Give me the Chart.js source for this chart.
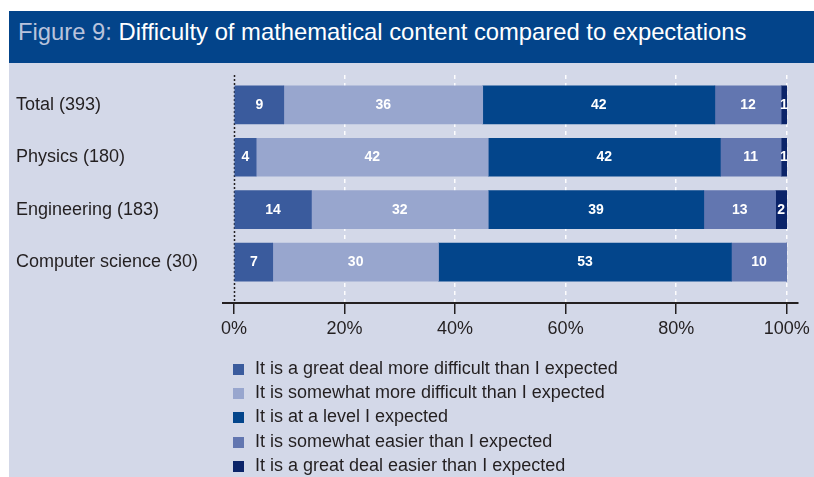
<!DOCTYPE html>
<html>
<head>
<meta charset="utf-8">
<script src="https://cdn.jsdelivr.net/npm/chart.js@4/dist/chart.umd.min.js"></script>
<style>
  body { margin: 0; background: #fff; width: 814px; height: 477px; position: relative; overflow: hidden; }
  #panel { position: absolute; left: 9px; top: 63px; right: 0; bottom: 0; background: #d3d8e8; }
  #titlebar { position: absolute; left: 9px; top: 11px; right: 0; height: 52px; background: #03448a;
    font-family: 'Liberation Sans', Arial, sans-serif; font-size: 23.8px;
    color: #fff; line-height: 41px; padding-left: 9px; white-space: nowrap; }
  #titlebar .fig { color: #b9c3dc; }
  #chartbox { position: absolute; left: 0; top: 0; width: 814px; height: 477px; }
  #legend { position: absolute; left: 233px; top: 356px; font-family: 'Liberation Sans', Arial, sans-serif;
    font-size: 18px; color: #231f20; }
  #legend div { height: 24.2px; line-height: 24px; white-space: nowrap; }
  #legend span.box { display: inline-block; width: 11px; height: 11px; margin-right: 11px; vertical-align: -1px; }
</style>
</head>
<body>
<div id="titlebar"><span class="fig">Figure 9:</span> Difficulty of mathematical content compared to expectations</div>
<div id="panel"></div>
<div id="chartbox"><canvas id="myChart" width="814" height="477"></canvas></div>
<div id="legend"></div>
<script>
// categories (top to bottom)
const groups = ['Total (393)', 'Physics (180)', 'Engineering (183)', 'Computer science (30)'];

// answers, one per stacked segment
const answers = [
  'It is a great deal more difficult than I expected',
  'It is somewhat more difficult than I expected',
  'It is at a level I expected',
  'It is somewhat easier than I expected',
  'It is a great deal easier than I expected'
];
const colours = ['#3a5b9d', '#98a6ce', '#03458b', '#6276b0', '#0b2469'];

// percentages per group
const muchHarder   = [9, 4, 14, 7];
const bitHarder    = [36, 42, 32, 30];
const asExpected   = [42, 42, 39, 53];
const bitEasier    = [12, 11, 13, 10];
const muchEasier   = [1, 1, 2, 0];

const xTicks = [0, 20, 40, 60, 80, 100];

const series = [muchHarder, bitHarder, asExpected, bitEasier, muchEasier];
const datasets = series.map((vals, s) => ({
  label: answers[s],
  data: vals.map((v, i) => ({ x: v, y: i })),
  backgroundColor: colours[s],
  borderWidth: 0,
  barThickness: 38,
  stack: 'all'
}));

// white numbers in the middle of each segment
const segmentLabels = {
  id: 'segmentLabels',
  afterDatasetsDraw(chart) {
    const ctx = chart.ctx;
    ctx.save();
    ctx.fillStyle = '#fff';
    ctx.font = 'bold 14px "Liberation Sans", Arial, sans-serif';
    ctx.textAlign = 'center';
    ctx.textBaseline = 'middle';
    chart.data.datasets.forEach((ds, d) => {
      chart.getDatasetMeta(d).data.forEach((bar, i) => {
        const v = ds.data[i].x;
        if (!v) return;
        const p = bar.getProps(['x', 'y', 'base'], true);
        ctx.fillText(String(v), (p.x + p.base) / 2, p.y);
      });
    });
    ctx.restore();
  }
};

// dotted line at 0%
const zeroLine = {
  id: 'zeroLine',
  beforeDatasetsDraw(chart) {
    const x = Math.round(chart.scales.x.getPixelForValue(0)) + 0.5;
    const a = chart.chartArea;
    const ctx = chart.ctx;
    ctx.save();
    ctx.strokeStyle = '#231f20';
    ctx.lineWidth = 1.5;
    ctx.setLineDash([2, 2]);
    ctx.beginPath();
    ctx.moveTo(x, a.top);
    ctx.lineTo(x, a.bottom);
    ctx.stroke();
    ctx.restore();
  }
};

const textFont = { family: "'Liberation Sans', Arial, sans-serif", size: 18 };

const myChart = new Chart(document.getElementById('myChart'), {
  type: 'bar',
  data: { datasets: datasets },
  plugins: [zeroLine, segmentLabels],
  options: {
    responsive: false,
    animation: false,
    indexAxis: 'y',
    layout: { padding: { left: 16, right: 16, top: 75, bottom: 135 } },
    plugins: {
      legend: { display: false },
      tooltip: { enabled: false }
    },
    scales: {
      x: {
        type: 'linear',
        stacked: true,
        min: -2,
        max: 102,
        afterBuildTicks: (scale) => { scale.ticks = xTicks.map(v => ({ value: v })); },
        afterFit: (scale) => { scale.height = 39; },
        ticks: { color: '#231f20', font: textFont, padding: 4, callback: (v) => v + '%' },
        grid: {
          color: (c) => c.tick && c.tick.value === 0 ? 'rgba(0,0,0,0)' : 'rgba(255,255,255,0.95)',
          lineWidth: 1.5,
          tickColor: '#231f20',
          tickWidth: 1.5,
          tickLength: 11,
          tickBorderDash: []
        },
        border: { display: true, color: '#231f20', width: 2, dash: [4, 4] }
      },
      y: {
        type: 'linear',
        reverse: true,
        offset: false,
        min: -0.57,
        max: 3.78,
        afterBuildTicks: (scale) => { scale.ticks = groups.map((g, i) => ({ value: i })); },
        afterFit: (scale) => { scale.width = 207; },
        ticks: { color: '#231f20', font: textFont, crossAlign: 'far', padding: 8, callback: (v) => groups[v] },
        grid: { display: false },
        border: { display: false }
      }
    }
  }
});

// legend as a plain list under the chart
const legendBox = document.getElementById('legend');
answers.forEach((name, s) => {
  const row = document.createElement('div');
  row.innerHTML = '<span class="box" style="background:' + colours[s] + '"></span>' + name;
  legendBox.appendChild(row);
});
</script>
</body>
</html>
